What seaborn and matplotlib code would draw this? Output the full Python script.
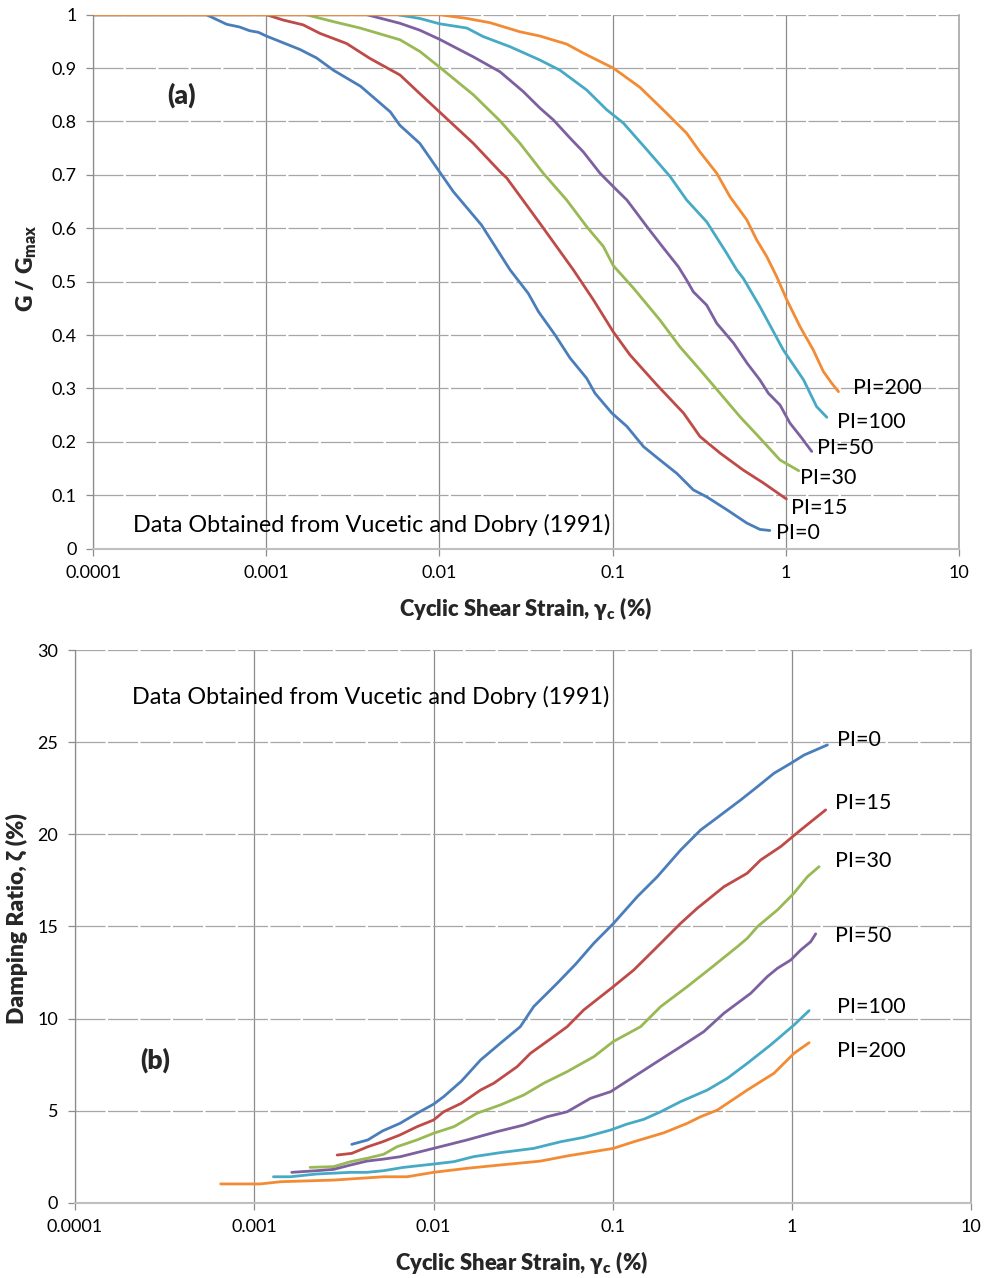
import numpy as np
import pandas as pd
import matplotlib
matplotlib.use("Agg")
import matplotlib.pyplot as plt
from matplotlib.ticker import NullLocator
import seaborn as sns

# ---------------- data: (a) G/Gmax ----------------
g_pi0_x = [0.0001, 0.00045, 0.00059, 0.0007, 0.0008, 0.0009, 0.001, 0.00156, 0.00195, 0.00244, 0.0035,
           0.0052, 0.0059, 0.0077, 0.01, 0.012, 0.0175, 0.0256, 0.0326, 0.0373, 0.0466, 0.0568, 0.0709,
           0.0792, 0.099, 0.121, 0.151, 0.188, 0.235, 0.293, 0.35, 0.457, 0.596, 0.711, 0.81]
g_pi0_y = [1, 1, 0.982, 0.977, 0.970, 0.967, 0.960, 0.935, 0.919, 0.896, 0.866,
           0.818, 0.793, 0.759, 0.706, 0.669, 0.606, 0.522, 0.478, 0.444, 0.400, 0.357, 0.319,
           0.291, 0.254, 0.229, 0.191, 0.166, 0.141, 0.110, 0.097, 0.073, 0.048, 0.036, 0.034]

g_pi15_x = [0.0001, 0.001, 0.00125, 0.00163, 0.00204, 0.00291, 0.00397, 0.00592, 0.00807, 0.01, 0.0157,
            0.0224, 0.0245, 0.0381, 0.0594, 0.0775, 0.101, 0.126, 0.18, 0.257, 0.32, 0.418, 0.57, 0.744, 1.01]
g_pi15_y = [1, 1, 0.990, 0.981, 0.965, 0.946, 0.918, 0.887, 0.846, 0.818, 0.759,
            0.706, 0.694, 0.609, 0.522, 0.466, 0.406, 0.363, 0.307, 0.254, 0.210, 0.179, 0.147, 0.123, 0.093]

g_pi30_x = [0.0001, 0.0017, 0.00244, 0.00348, 0.00592, 0.00772, 0.01, 0.0157, 0.0224, 0.0292, 0.0398,
            0.0543, 0.0709, 0.0885, 0.101, 0.132, 0.188, 0.245, 0.32, 0.418, 0.545, 0.711, 0.928, 1.19]
g_pi30_y = [1, 1, 0.987, 0.975, 0.953, 0.931, 0.902, 0.850, 0.801, 0.759, 0.703,
            0.653, 0.603, 0.566, 0.530, 0.488, 0.428, 0.378, 0.335, 0.291, 0.247, 0.207, 0.166, 0.146]

g_pi50_x = [0.0001, 0.0038, 0.0059, 0.0077, 0.01, 0.0157, 0.0224, 0.0305, 0.0381, 0.0455, 0.0568,
            0.0678, 0.0847, 0.101, 0.121, 0.158, 0.197, 0.24, 0.268, 0.293, 0.35, 0.40, 0.50, 0.60,
            0.71, 0.795, 0.928, 1.06, 1.24, 1.415]
g_pi50_y = [1, 1, 0.984, 0.971, 0.954, 0.921, 0.893, 0.856, 0.825, 0.803, 0.769,
            0.743, 0.703, 0.678, 0.653, 0.603, 0.563, 0.528, 0.503, 0.481, 0.456, 0.422, 0.385, 0.347,
            0.316, 0.291, 0.269, 0.235, 0.207, 0.182]

g_pi100_x = [0.0001, 0.0057, 0.0077, 0.01, 0.0144, 0.0179, 0.0256, 0.0381, 0.0497, 0.0709, 0.0925,
             0.1155, 0.158, 0.215, 0.268, 0.35, 0.457, 0.522, 0.57, 0.711, 0.97, 1.27, 1.51, 1.73]
g_pi100_y = [1, 1, 0.993, 0.983, 0.975, 0.959, 0.940, 0.915, 0.896, 0.859, 0.822,
             0.797, 0.747, 0.697, 0.653, 0.612, 0.553, 0.522, 0.506, 0.453, 0.372, 0.316, 0.266, 0.246]

g_pi200_x = [0.0001, 0.01, 0.0144, 0.0196, 0.0292, 0.0381, 0.0543, 0.0678, 0.101, 0.144, 0.206,
             0.268, 0.32, 0.40, 0.477, 0.596, 0.681, 0.778, 0.889, 1.016, 1.21, 1.445, 1.65, 1.845, 2.02]
g_pi200_y = [1, 1, 0.993, 0.985, 0.968, 0.960, 0.945, 0.928, 0.900, 0.864, 0.815,
             0.778, 0.743, 0.703, 0.659, 0.616, 0.578, 0.547, 0.509, 0.466, 0.416, 0.372, 0.332, 0.310, 0.294]

# ---------------- data: (b) damping ----------------
d_pi0_x = [0.0035, 0.0043, 0.0052, 0.0065, 0.0081, 0.0100, 0.0114, 0.0143, 0.0183, 0.0236, 0.0305,
           0.0362, 0.0490, 0.0620, 0.0784, 0.1010, 0.137, 0.177, 0.239, 0.309, 0.367, 0.517, 0.641,
           0.793, 0.984, 1.167, 1.575]
d_pi0_y = [3.17, 3.41, 3.90, 4.31, 4.86, 5.35, 5.76, 6.60, 7.75, 8.66, 9.56,
           10.65, 11.92, 12.95, 14.09, 15.17, 16.62, 17.70, 19.15, 20.24, 20.78, 21.87, 22.59,
           23.32, 23.86, 24.31, 24.86]

d_pi15_x = [0.0029, 0.0035, 0.0043, 0.0052, 0.0065, 0.0081, 0.0100, 0.0114, 0.0143, 0.0183, 0.0217,
            0.0293, 0.0347, 0.045, 0.0557, 0.0689, 0.1006, 0.131, 0.177, 0.239, 0.296, 0.417, 0.562,
            0.668, 0.865, 1.117, 1.54]
d_pi15_y = [2.59, 2.68, 3.04, 3.31, 3.68, 4.13, 4.49, 4.94, 5.40, 6.12, 6.49,
            7.39, 8.11, 8.90, 9.56, 10.47, 11.73, 12.64, 13.90, 15.17, 15.99, 17.16, 17.89,
            18.61, 19.34, 20.24, 21.33]

d_pi30_x = [0.00205, 0.00277, 0.00345, 0.00425, 0.00527, 0.00625, 0.00809, 0.0100, 0.0130, 0.0175,
            0.0236, 0.0319, 0.0412, 0.0557, 0.0784, 0.1006, 0.143, 0.185, 0.260, 0.351, 0.495, 0.563,
            0.641, 0.829, 1.025, 1.218, 1.415]
d_pi30_y = [1.92, 1.96, 2.23, 2.41, 2.63, 3.04, 3.41, 3.77, 4.13, 4.86,
            5.31, 5.85, 6.49, 7.12, 7.93, 8.75, 9.56, 10.65, 11.73, 12.73, 13.90, 14.36,
            14.99, 15.90, 16.81, 17.70, 18.25]

d_pi50_x = [0.00162, 0.00223, 0.00277, 0.00345, 0.00425, 0.00527, 0.00653, 0.0100, 0.0154, 0.0226,
            0.0319, 0.043, 0.0557, 0.0751, 0.0973, 0.131, 0.177, 0.239, 0.322, 0.417, 0.588, 0.728,
            0.829, 0.984, 1.117, 1.27, 1.355]
d_pi50_y = [1.65, 1.74, 1.81, 2.05, 2.26, 2.37, 2.50, 2.95, 3.41, 3.86,
            4.22, 4.67, 4.94, 5.67, 6.03, 6.84, 7.66, 8.47, 9.29, 10.29, 11.37, 12.28,
            12.73, 13.18, 13.72, 14.17, 14.60]

d_pi100_x = [0.00128, 0.00159, 0.00223, 0.00345, 0.00425, 0.00527, 0.00681, 0.0100, 0.0130, 0.0167,
             0.0236, 0.0362, 0.0511, 0.0689, 0.0973, 0.120, 0.149, 0.185, 0.239, 0.337, 0.436, 0.563,
             0.760, 1.025, 1.245]
d_pi100_y = [1.41, 1.41, 1.56, 1.65, 1.65, 1.74, 1.92, 2.10, 2.23, 2.50,
             2.72, 2.95, 3.31, 3.55, 3.95, 4.27, 4.53, 4.94, 5.49, 6.12, 6.76, 7.57,
             8.57, 9.65, 10.43]

d_pi200_x = [0.00065, 0.00108, 0.0014, 0.00277, 0.00527, 0.00712, 0.0100, 0.0154, 0.0236, 0.0395,
             0.0557, 0.1006, 0.131, 0.193, 0.260, 0.309, 0.383, 0.563, 0.793, 1.025, 1.245]
d_pi200_y = [1.02, 1.02, 1.14, 1.23, 1.41, 1.41, 1.65, 1.87, 2.05, 2.26,
             2.54, 2.95, 3.31, 3.80, 4.31, 4.67, 5.03, 6.12, 7.03, 8.11, 8.69]

series_names = ["PI=0", "PI=15", "PI=30", "PI=50", "PI=100", "PI=200"]
xtick_vals = [0.0001, 0.001, 0.01, 0.1, 1, 10]
xtick_labels = ["0.0001", "0.001", "0.01", "0.1", "1", "10"]
g_ticks = [0, 0.1, 0.2, 0.3, 0.4, 0.5, 0.6, 0.7, 0.8, 0.9, 1]
g_tick_labels = ["0", "0.1", "0.2", "0.3", "0.4", "0.5", "0.6", "0.7", "0.8", "0.9", "1"]
d_ticks = [0, 5, 10, 15, 20, 25, 30]
d_tick_labels = ["0", "5", "10", "15", "20", "25", "30"]

g_x = [g_pi0_x, g_pi15_x, g_pi30_x, g_pi50_x, g_pi100_x, g_pi200_x]
g_y = [g_pi0_y, g_pi15_y, g_pi30_y, g_pi50_y, g_pi100_y, g_pi200_y]
d_x = [d_pi0_x, d_pi15_x, d_pi30_x, d_pi50_x, d_pi100_x, d_pi200_x]
d_y = [d_pi0_y, d_pi15_y, d_pi30_y, d_pi50_y, d_pi100_y, d_pi200_y]

df_g = pd.concat([pd.DataFrame({"strain": xs, "val": ys, "PI": n}) for n, xs, ys in zip(series_names, g_x, g_y)],
                 ignore_index=True)
df_d = pd.concat([pd.DataFrame({"strain": xs, "val": ys, "PI": n}) for n, xs, ys in zip(series_names, d_x, d_y)],
                 ignore_index=True)

palette = {"PI=0": "#4A7EBB", "PI=15": "#BE4B48", "PI=30": "#98B954",
           "PI=50": "#7D60A0", "PI=100": "#46AAC5", "PI=200": "#F38B35"}

sns.set_theme(style="white")
plt.rcParams["font.family"] = ["Lato", "DejaVu Sans"]
plt.rcParams["mathtext.fontset"] = "custom"
plt.rcParams["mathtext.rm"] = "Lato"
plt.rcParams["mathtext.bf"] = "Lato:extrabold"

bold_w = "heavy"

fig = plt.figure(figsize=(9.84, 12.78), dpi=100)
ax1 = fig.add_axes([0.0948, 0.5707, 0.8795, 0.4178])
ax2 = fig.add_axes([0.0762, 0.0589, 0.9109, 0.4323])

sns.lineplot(data=df_g, x="strain", y="val", hue="PI", palette=palette, sort=False,
             estimator=None, linewidth=2.0, legend=False, ax=ax1)
sns.lineplot(data=df_d, x="strain", y="val", hue="PI", palette=palette, sort=False,
             estimator=None, linewidth=2.0, legend=False, ax=ax2)


def style_axes(ax, yticks, ylabels, ylim):
    ax.set_xscale("log")
    ax.set_xlim(0.0001, 10)
    ax.set_ylim(*ylim)
    ax.set_xticks(xtick_vals)
    ax.set_xticklabels(xtick_labels)
    ax.xaxis.set_minor_locator(NullLocator())
    ax.set_yticks(yticks)
    ax.set_yticklabels(ylabels)
    ax.set_axisbelow(True)
    ax.grid(False)
    ax.yaxis.grid(True, color="#A6A6A6", linewidth=0.9, linestyle=(0, (24, 2)))
    ax.xaxis.grid(True, color="#8C8C8C", linewidth=0.9)
    ax.spines["top"].set_visible(False)
    ax.spines["left"].set_color("#8C8C8C")
    ax.spines["left"].set_linewidth(0.9)
    ax.spines["right"].set_color("#A6A6A6")
    ax.spines["right"].set_linewidth(1.2)
    ax.spines["bottom"].set_color("#BFBFBF")
    ax.spines["bottom"].set_linewidth(1.5)
    ax.tick_params(axis="both", which="major", bottom=True, left=True, direction="out",
                   length=5, width=0.9, color="#8C8C8C", labelsize=13, labelcolor="black", pad=7)


style_axes(ax1, g_ticks, g_tick_labels, (0, 1))
style_axes(ax2, d_ticks, d_tick_labels, (0, 30))

xlabel = "Cyclic Shear Strain, γ$_\\mathbf{c}$ (%)"
for ax in (ax1, ax2):
    ax.set_xlabel(xlabel, fontsize=15.8, fontweight=bold_w)
ax1.xaxis.set_label_coords(0.5, -0.086)
ax2.xaxis.set_label_coords(0.4987, -0.084)
ax1.set_ylabel("G / G$_\\mathbf{max}$", fontsize=16.5, fontweight=bold_w)
ax2.set_ylabel("Damping Ratio, ζ (%)", fontsize=16.5, fontweight=bold_w)
ax1.yaxis.set_label_coords(-0.063, 0.526)
ax2.yaxis.set_label_coords(-0.052, 0.515)

# annotations (a)
lab_fs = 15.5
note_fs = 16.8
g_label_pos = {"PI=200": (2.45, 0.301), "PI=100": (1.97, 0.238), "PI=50": (1.52, 0.188),
               "PI=30": (1.21, 0.132), "PI=15": (1.07, 0.076), "PI=0": (0.88, 0.029)}
for n in series_names:
    x, y = g_label_pos[n]
    ax1.text(x, y, n, fontsize=lab_fs, ha="left", va="center", color="black")
ax1.text(0.00017, 0.0444, "Data Obtained from Vucetic and Dobry (1991)", fontsize=note_fs,
         ha="left", va="center", color="black")
ax1.text(0.000324, 0.85, "(a)", fontsize=19, fontweight=bold_w, ha="center", va="center")

# annotations (b)
d_label_pos = {"PI=0": (1.79, 25.13), "PI=15": (1.73, 21.69), "PI=30": (1.73, 18.58),
               "PI=50": (1.73, 14.49), "PI=100": (1.79, 10.65), "PI=200": (1.79, 8.26)}
for n in series_names:
    x, y = d_label_pos[n]
    ax2.text(x, y, n, fontsize=lab_fs, ha="left", va="center", color="black")
ax2.text(0.000207, 27.49, "Data Obtained from Vucetic and Dobry (1991)", fontsize=note_fs,
         ha="left", va="center", color="black")
ax2.text(0.00028, 7.75, "(b)", fontsize=19, fontweight=bold_w, ha="center", va="center")

fig.savefig("out.png", dpi=100, facecolor="white")
